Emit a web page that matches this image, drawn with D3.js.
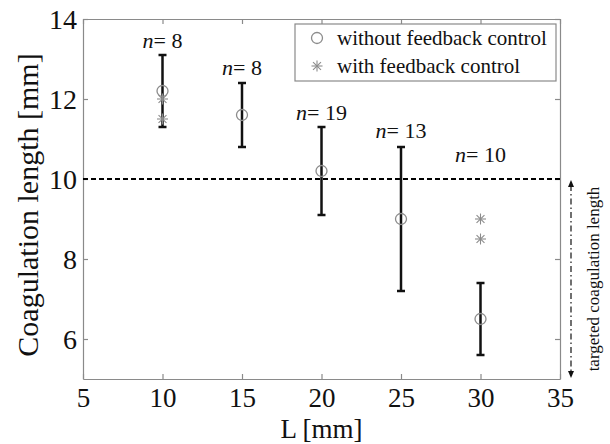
<!DOCTYPE html>
<html><head><meta charset="utf-8">
<script src="https://cdn.jsdelivr.net/npm/d3@7"></script>
<style>body{margin:0;background:#fff}svg{display:block}svg text{font-family:"Liberation Serif","DejaVu Serif",serif !important}</style>
</head><body><svg id="c" width="610" height="444" font-family="Liberation Serif"></svg>
<script>
const L = [10, 15, 20, 25, 30];
const meanNoFb = [12.2, 11.6, 10.2, 9.0, 6.5];
const errLow = [11.3, 10.8, 9.1, 7.2, 5.6];
const errHigh = [13.1, 12.4, 11.3, 10.8, 7.4];
const nCounts = [8, 8, 19, 13, 10];
const nLabelY = [13.28, 12.6, 11.48, 11.02, 10.42];
const fbL = [10, 10, 30, 30];
const fbVals = [12.0, 11.5, 9.0, 8.5];
const xTicks = [5, 10, 15, 20, 25, 30, 35];
const yTicks = [6, 8, 10, 12, 14];
const target = 10;

const FONT = "'Liberation Serif', 'DejaVu Serif', serif";
const svg = d3.select("#c");
const m = {l: 83, t: 19, r: 560, b: 379};
const x = d3.scaleLinear().domain([5, 35]).range([m.l, m.r]);
const y = d3.scaleLinear().domain([5, 14]).range([m.b, m.t]);
const axisCol = "#8a8a8a";

// axes
const xa = svg.append("g").attr("transform", `translate(0,${m.b})`)
  .call(d3.axisBottom(x).tickValues(xTicks).tickSizeInner(-5).tickSizeOuter(0).tickPadding(10));
const xt = svg.append("g").attr("transform", `translate(0,${m.t})`)
  .call(d3.axisTop(x).tickValues(xTicks).tickSizeInner(-5).tickSizeOuter(0).tickFormat(""));
const ya = svg.append("g").attr("transform", `translate(${m.l},0)`)
  .call(d3.axisLeft(y).tickValues(yTicks).tickSizeInner(-5).tickSizeOuter(0).tickPadding(6));
const yr = svg.append("g").attr("transform", `translate(${m.r},0)`)
  .call(d3.axisRight(y).tickValues(yTicks).tickSizeInner(-5).tickSizeOuter(0).tickFormat(""));
[xa, xt, ya, yr].forEach(g => {
  g.attr("font-family", FONT);
  g.selectAll("path,line").attr("stroke", axisCol).attr("stroke-width", 1.2);
  g.selectAll("text").attr("fill", "#111").style("font-size", "28px").style("font-family", FONT);
});
xa.selectAll("text").attr("y", 28).attr("dy", 0).style("font-size", "27px");
ya.selectAll("text").attr("dy", "0.34em");

// axis labels
svg.append("text").attr("x", (m.l + m.r) / 2).attr("y", 437.5).attr("text-anchor", "middle")
  .style("font-family", FONT).style("font-size", "27px").attr("fill", "#111").text("L [mm]");
svg.append("text").attr("transform", `translate(38,205) rotate(-90)`)
  .attr("text-anchor", "middle").style("font-family", FONT).style("font-size", "30px").attr("fill", "#111")
  .text("Coagulation length [mm]");

// target dashed line
svg.append("line").attr("x1", x(5)).attr("x2", x(35)).attr("y1", y(target)).attr("y2", y(target))
  .attr("stroke", "#000").attr("stroke-width", 2).attr("stroke-dasharray", "5,3");

// error bars
const eb = svg.append("g").attr("stroke", "#111").attr("stroke-width", 2.5);
L.forEach((v, i) => {
  eb.append("line").attr("x1", x(v)).attr("x2", x(v)).attr("y1", y(errLow[i])).attr("y2", y(errHigh[i]));
  [errLow[i], errHigh[i]].forEach(e => eb.append("line").attr("x1", x(v) - 4).attr("x2", x(v) + 4)
    .attr("y1", y(e)).attr("y2", y(e)));
});

// circle markers
svg.append("g").selectAll("circle").data(L).join("circle")
  .attr("cx", d => x(d)).attr("cy", (d, i) => y(meanNoFb[i])).attr("r", 5.5)
  .attr("fill", "none").attr("stroke", "#8c8c8c").attr("stroke-width", 1.3);

// star markers
function star(g, cx, cy, r) {
  const s = g.append("g").attr("stroke", "#8c8c8c").attr("stroke-width", 1.1);
  s.append("line").attr("x1", cx - r).attr("x2", cx + r).attr("y1", cy).attr("y2", cy);
  s.append("line").attr("x1", cx).attr("x2", cx).attr("y1", cy - r).attr("y2", cy + r);
  const d = r * 0.72;
  s.append("line").attr("x1", cx - d).attr("x2", cx + d).attr("y1", cy - d).attr("y2", cy + d);
  s.append("line").attr("x1", cx - d).attr("x2", cx + d).attr("y1", cy + d).attr("y2", cy - d);
}
const sg = svg.append("g");
fbL.forEach((v, i) => star(sg, x(v), y(fbVals[i]), 5.5));

// n labels
L.forEach((v, i) => {
  const t = svg.append("text").attr("x", x(v)).attr("y", y(nLabelY[i])).attr("text-anchor", "middle")
    .style("font-family", FONT).style("font-size", "22px").attr("fill", "#111");
  t.append("tspan").style("font-style", "italic").text("n");
  t.append("tspan").text("= " + nCounts[i]);
});

// legend
const lg = svg.append("g");
lg.append("rect").attr("x", 295).attr("y", 24).attr("width", 261).attr("height", 57)
  .attr("fill", "#fff").attr("stroke", axisCol).attr("stroke-width", 1.2);
lg.append("circle").attr("cx", 317).attr("cy", 38).attr("r", 5.5).attr("fill", "none")
  .attr("stroke", "#8c8c8c").attr("stroke-width", 1.3);
star(lg, 317, 66, 5.5);
lg.append("text").attr("x", 337).attr("y", 45).style("font-family", FONT).style("font-size", "21px").attr("fill", "#111").text("without feedback control");
lg.append("text").attr("x", 337).attr("y", 73).style("font-family", FONT).style("font-size", "21px").attr("fill", "#111").text("with feedback control");

// target annotation
const ax = 571;
svg.append("line").attr("x1", ax).attr("x2", ax).attr("y1", y(target) + 6).attr("y2", y(5) - 6)
  .attr("stroke", "#111").attr("stroke-width", 1.2).attr("stroke-dasharray", "6,3,1.5,3");
svg.append("path").attr("d", `M${ax},${y(target) + 1} l-3,7 l6,0 z`).attr("fill", "#111");
svg.append("path").attr("d", `M${ax},${y(5) - 1} l-3,-7 l6,0 z`).attr("fill", "#111");
svg.append("text").attr("transform", `translate(599,${(y(target) + y(5)) / 2}) rotate(-90)`)
  .attr("text-anchor", "middle").style("font-family", FONT).style("font-size", "17px").attr("fill", "#111")
  .text("targeted coagulation length");
</script></body></html>
